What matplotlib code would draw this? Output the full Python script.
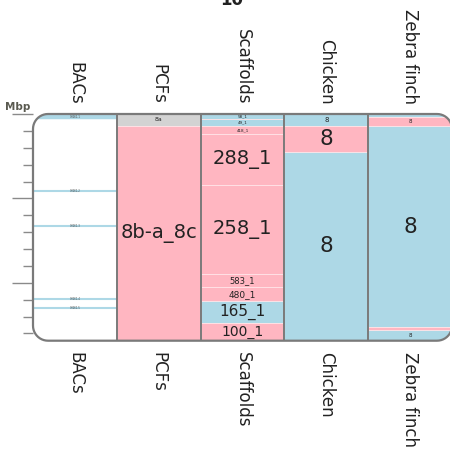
import matplotlib
matplotlib.use("Agg")
import matplotlib.pyplot as plt
import numpy as np
from matplotlib.path import Path
from matplotlib.patches import PathPatch

PINK = "#ffb6c1"
BLUE = "#add8e6"
GREY = "#d3d3d3"

columns = ["BACs", "PCFs", "Scaffolds", "Chicken", "Zebra finch"]
chrom_len = 26.86  # Mbp

# segments per column: (start, end, colour, label, fontsize)
pcf_segs = [(0.0, 1.42, GREY, "8a", 4.5),
            (1.42, 26.86, PINK, "8b-a_8c", 14)]
scaffold_segs = [(0.0, 0.65, BLUE, "58_1", 3),
                 (0.65, 1.42, BLUE, "49_1", 3),
                 (1.42, 2.4, PINK, "418_1", 3),
                 (2.4, 8.41, PINK, "288_1", 14),
                 (8.41, 19.0, PINK, "258_1", 14),
                 (19.0, 20.55, PINK, "583_1", 6),
                 (20.55, 22.2, PINK, "480_1", 6.5),
                 (22.2, 24.75, BLUE, "165_1", 11),
                 (24.75, 26.86, PINK, "100_1", 10)]
chicken_segs = [(0.0, 1.42, BLUE, "8", 5),
                (1.42, 4.47, PINK, "8", 15.5),
                (4.47, 26.86, BLUE, "8", 15.5)]
zebra_segs = [(0.0, 0.32, BLUE, "", 3),
              (0.32, 1.42, PINK, "8", 4),
              (1.42, 25.24, BLUE, "8", 15.5),
              (25.24, 25.6, PINK, "", 3),
              (25.6, 26.86, BLUE, "8", 4)]

bac_pos = [0.35, 9.12, 13.3, 21.9, 22.95]
bac_width = [3.2, 1.5, 1.5, 1.5, 1.5]
bac_names = ["CH261-1", "CH261-2", "CH261-3", "CH261-4", "CH261-5"]

fig = plt.figure(figsize=(4.5, 4.55), dpi=100)
ax_w, ax_h = 419.0, 226.7
ax = fig.add_axes([33 / 450, 1 - 340.7 / 455, ax_w / 450, ax_h / 455])
ax.set_xlim(0, 5)
ax.set_ylim(chrom_len, 0)
for s in ax.spines.values():
    s.set_visible(False)


def rounded_rect(rx, ry, n=12):
    # closed path of the unit square with elliptical corners (axes fraction)
    pts = []
    corners = [(1 - rx, 1 - ry, 0), (rx, 1 - ry, 90), (rx, ry, 180), (1 - rx, ry, 270)]
    for cx, cy, a0 in corners:
        t = np.radians(np.linspace(a0, a0 + 90, n))
        pts += list(zip(cx + rx * np.cos(t), cy + ry * np.sin(t)))
    pts.append(pts[0])
    codes = [Path.MOVETO] + [Path.LINETO] * (len(pts) - 2) + [Path.CLOSEPOLY]
    return Path(pts, codes)


r = 15.0
outline = rounded_rect(r / ax_w, r / ax_h)
box = PathPatch(outline, transform=ax.transAxes, facecolor="white",
                edgecolor="none", zorder=0, clip_on=False)
ax.add_patch(box)
border = PathPatch(outline, transform=ax.transAxes, facecolor="none",
                   edgecolor="#7a7a7a", lw=1.6, zorder=10, clip_on=False)
ax.add_patch(border)

all_segs = [pcf_segs, scaffold_segs, chicken_segs, zebra_segs]
for i, segs in enumerate(all_segs):
    xc = i + 1.5
    starts = [s[0] for s in segs]
    heights = [s[1] - s[0] for s in segs]
    cols = [s[2] for s in segs]
    bars = ax.bar([xc] * len(segs), heights, bottom=starts, width=1.0, color=cols,
                  edgecolor="#ffe4e8", linewidth=0.6, zorder=2)
    for b in bars:
        b.set_clip_path(box)
    for s in segs:
        if s[3]:
            ax.text(xc, (s[0] + s[1]) / 2, s[3], ha="center", va="center",
                    fontsize=s[4], color="#222222", zorder=5)

# BAC hits
for y, w, nm in zip(bac_pos, bac_width, bac_names):
    ln = ax.hlines(y, 0, 1, colors=BLUE, lw=w, zorder=2)
    ln.set_clip_path(box)
    ax.text(0.5, y, nm, ha="center", va="center", fontsize=1.8, color="#444444", zorder=5)

# column separators
for xs in range(1, 5):
    ax.axvline(xs, color="#7a7a7a", lw=1.4, zorder=6)

# Mbp scale
ax.set_xticks([])
ax.set_yticks([0, 10, 20])
ax.set_yticks([2, 4, 6, 8, 12, 14, 16, 18, 22, 24, 26], minor=True)
ax.tick_params(axis="y", which="major", length=15, width=1, color="#8a8a8a", labelleft=False)
ax.tick_params(axis="y", which="minor", length=7.5, width=1, color="#8a8a8a")
ax.text(-0.18, -0.85, "Mbp", ha="center", va="center", fontsize=7.5, fontweight="bold",
        color="#5a5a50", clip_on=False)

for i, name in enumerate(columns):
    ax.text(i + 0.5, -1.15, name, rotation=270, rotation_mode="anchor", ha="right",
            va="center", fontsize=12, color="#222222", clip_on=False)
    ax.text(i + 0.5, 28.2, name, rotation=270, rotation_mode="anchor", ha="left",
            va="center", fontsize=12, color="#222222", clip_on=False)

fig.text(232 / 450, 1 - 5 / 455, "10", ha="center", va="baseline", fontsize=12,
         fontweight="bold", color="#222222")

fig.savefig("out.png", dpi=100)
